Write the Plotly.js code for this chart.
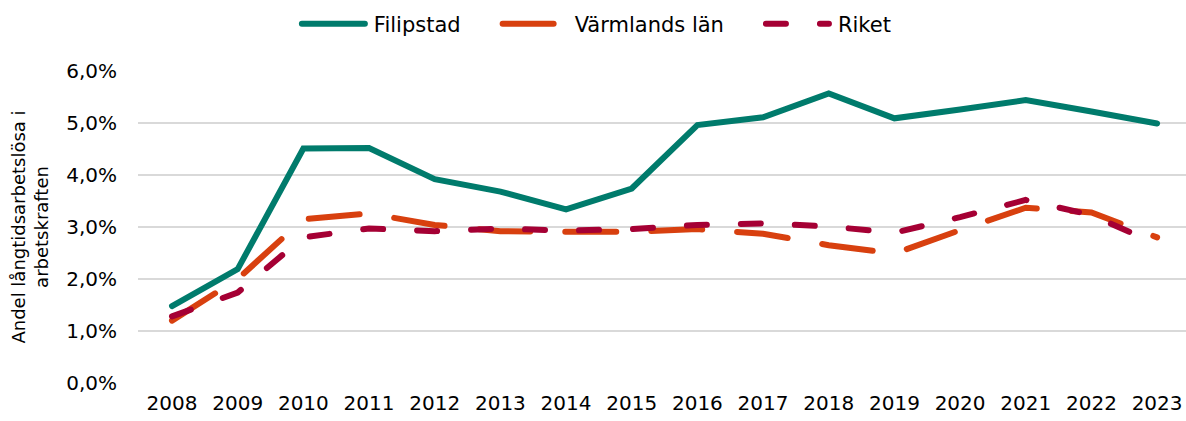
<!DOCTYPE html>
<html>
<head>
<meta charset="utf-8">
<script src="https://cdn.plot.ly/plotly-3.0.1.min.js"></script>
<style>html,body{margin:0;padding:0;background:#fff;}#chart{width:1186px;height:421px;}</style>
</head>
<body>
<div id="chart"></div>
<script>
const years = ['2008','2009','2010','2011','2012','2013','2014','2015','2016','2017','2018','2019','2020','2021','2022','2023'];
const filipstad = [1.48, 2.19, 4.51, 4.52, 3.92, 3.68, 3.34, 3.74, 4.96, 5.11, 5.57, 5.09, 5.26, 5.44, 5.22, 4.99];
const varmland = [1.20, 2.00, 3.15, 3.26, 3.04, 2.92, 2.91, 2.91, 2.96, 2.87, 2.65, 2.49, 2.94, 3.37, 3.28, 2.80];
const riket = [1.28, 1.74, 2.80, 2.97, 2.92, 2.97, 2.93, 2.96, 3.04, 3.07, 3.01, 2.89, 3.19, 3.52, 3.23, 2.67];
const seriesNames = ['Filipstad', 'Värmlands län', 'Riket'];
const yTitle = 'Andel långtidsarbetslösa i<br>arbetskraften';

const font = 'DejaVu Sans, Liberation Sans, Arial, sans-serif';
const traces = [
  {x: years, y: filipstad, name: seriesNames[0], type: 'scatter', mode: 'lines',
   line: {color: '#007B6C', width: 6}},
  {x: years, y: varmland, name: seriesNames[1], type: 'scatter', mode: 'lines',
   line: {color: '#D8400F', width: 6, dash: '51px,35px'}},
  {x: years, y: riket, name: seriesNames[2], type: 'scatter', mode: 'lines',
   line: {color: '#A50034', width: 6, dash: '20px,34px'}}
];
const layout = {
  width: 1186, height: 421,
  margin: {l: 138, r: 0, t: 71, b: 38},
  paper_bgcolor: '#fff', plot_bgcolor: '#fff',
  separators: ', ',
  font: {family: font, size: 20, color: '#000'},
  showlegend: true,
  legend: {orientation: 'h', xref: 'container', yref: 'container', x: 0.502, y: 0.943,
           xanchor: 'center', yanchor: 'middle', font: {size: 21, color: '#000'},
           itemwidth: 70, traceorder: 'normal'},
  xaxis: {type: 'category', range: [-0.518, 15.44], showgrid: false, zeroline: false,
          showline: false, ticks: '', tickfont: {size: 20}, ticklabelstandoff: 6},
  yaxis: {range: [0, 6], dtick: 1, tickformat: '.1f', ticksuffix: '%', showgrid: true,
          gridcolor: '#d9d9d9', gridwidth: 1.5, zeroline: false, showline: false,
          ticks: '', tickfont: {size: 20}, ticklabelstandoff: 20,
          title: {text: yTitle, font: {size: 18, color: '#000'}, standoff: 12}}
};
Plotly.newPlot('chart', traces, layout, {displayModeBar: false, staticPlot: true}).then(() => {
  document.querySelectorAll('.scatterlayer path.js-line').forEach(p => {
    p.style.strokeLinecap = 'round';
  });
  document.querySelectorAll('.legend path.js-line').forEach(p => {
    p.setAttribute('d', 'M8,0h63');
    p.style.strokeLinecap = 'round';
  });
  // widen spacing between legend entries and keep the legend centred
  const extra = 29;
  const items = document.querySelectorAll('.legend .traces');
  items.forEach((g, i) => {
    const m = /translate\(([-\d.]+)[ ,]+([-\d.]+)\)/.exec(g.getAttribute('transform') || '');
    if (m) g.setAttribute('transform', `translate(${+m[1] + i * extra},${m[2]})`);
  });
  const leg = document.querySelector('.legend');
  const lm = /translate\(([-\d.]+)[ ,]+([-\d.]+)\)/.exec(leg.getAttribute('transform') || '');
  if (lm) leg.setAttribute('transform', `translate(${+lm[1] - extra * (items.length - 1) / 2},${lm[2]})`);
  const bg = document.querySelector('.legend .bg');
  if (bg) bg.setAttribute('width', +bg.getAttribute('width') + extra * (items.length - 1));
  leg.querySelectorAll('[clip-path]').forEach(el => el.removeAttribute('clip-path'));
  leg.removeAttribute('clip-path');
});
</script>
</body>
</html>
